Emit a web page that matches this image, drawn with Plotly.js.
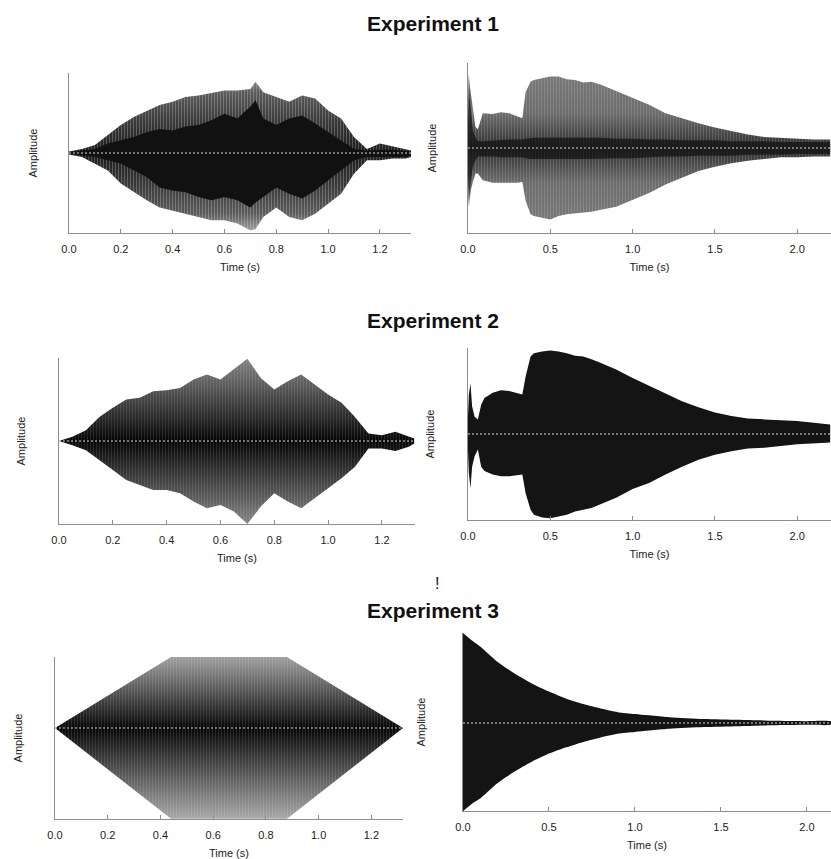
<!DOCTYPE html>
<html><head><meta charset="utf-8">
<script src="https://cdn.plot.ly/plotly-3.0.1.min.js"></script>
<style>html,body{margin:0;padding:0;background:#fff}</style>
</head><body><div id="chart" style="width:831px;height:859px"></div>
<script>
// ---------- Data (envelopes) ----------
const titles = ['Experiment 1', 'Experiment 2', 'Experiment 3'];
const xTitle = 'Time (s)';
const yTitle = 'Amplitude';

// Panel 1: Experiment 1, left
const t1 = [0, 0.05, 0.1, 0.15, 0.2, 0.25, 0.3, 0.35, 0.4, 0.45, 0.5, 0.55, 0.6, 0.65, 0.7, 0.72, 0.75, 0.8, 0.85, 0.9, 0.95, 1.0, 1.05, 1.1, 1.15, 1.2, 1.25, 1.3, 1.32];
const p1Upper = [0.02, 0.05, 0.1, 0.22, 0.35, 0.45, 0.53, 0.6, 0.64, 0.7, 0.72, 0.75, 0.78, 0.78, 0.8, 0.89, 0.76, 0.7, 0.64, 0.72, 0.68, 0.53, 0.43, 0.2, 0.05, 0.12, 0.08, 0.04, 0.03];
const p1Lower = [-0.02, -0.05, -0.13, -0.22, -0.38, -0.49, -0.59, -0.68, -0.72, -0.76, -0.8, -0.84, -0.84, -0.88, -0.97, -0.95, -0.8, -0.68, -0.8, -0.84, -0.76, -0.63, -0.51, -0.26, -0.09, -0.09, -0.07, -0.07, -0.05];
const p1CoreUpper = [0.01, 0.03, 0.05, 0.12, 0.16, 0.2, 0.26, 0.3, 0.28, 0.33, 0.35, 0.41, 0.49, 0.43, 0.58, 0.66, 0.43, 0.35, 0.43, 0.47, 0.37, 0.26, 0.16, 0.05, 0.03, 0.04, 0.04, 0.03, 0.02];
const p1CoreLower = [-0.01, -0.03, -0.05, -0.09, -0.13, -0.22, -0.3, -0.43, -0.47, -0.49, -0.55, -0.59, -0.55, -0.59, -0.68, -0.62, -0.55, -0.43, -0.51, -0.57, -0.47, -0.34, -0.22, -0.09, -0.05, -0.05, -0.05, -0.05, -0.03];

// Panel 2: Experiment 1, right
const t2 = [0, 0.005, 0.01, 0.02, 0.03, 0.045, 0.06, 0.09, 0.15, 0.2, 0.25, 0.3, 0.33, 0.35, 0.38, 0.4, 0.45, 0.5, 0.55, 0.6, 0.65, 0.7, 0.75, 0.8, 0.9, 1.0, 1.1, 1.2, 1.3, 1.4, 1.5, 1.6, 1.7, 1.8, 1.9, 2.0, 2.1, 2.2];
const p2Upper = [0.3, 0.88, 0.75, 0.6, 0.45, 0.25, 0.22, 0.41, 0.4, 0.42, 0.41, 0.37, 0.35, 0.66, 0.78, 0.8, 0.82, 0.84, 0.84, 0.81, 0.8, 0.77, 0.78, 0.75, 0.67, 0.59, 0.51, 0.41, 0.35, 0.29, 0.24, 0.2, 0.16, 0.13, 0.12, 0.11, 0.1, 0.1];
const p2Lower = [-0.3, -0.7, -0.6, -0.47, -0.4, -0.3, -0.3, -0.38, -0.41, -0.41, -0.41, -0.41, -0.4, -0.62, -0.78, -0.8, -0.82, -0.84, -0.8, -0.78, -0.77, -0.76, -0.75, -0.73, -0.69, -0.61, -0.53, -0.43, -0.35, -0.27, -0.22, -0.18, -0.15, -0.13, -0.11, -0.11, -0.1, -0.1];
const p2CoreUpper = [0.3, 0.85, 0.6, 0.35, 0.2, 0.12, 0.08, 0.08, 0.09, 0.1, 0.1, 0.1, 0.1, 0.11, 0.12, 0.12, 0.12, 0.12, 0.12, 0.12, 0.12, 0.12, 0.12, 0.12, 0.11, 0.11, 0.1, 0.1, 0.09, 0.09, 0.09, 0.08, 0.08, 0.08, 0.07, 0.07, 0.07, 0.07];
const p2CoreLower = [-0.3, -0.65, -0.5, -0.35, -0.22, -0.14, -0.1, -0.1, -0.1, -0.11, -0.11, -0.11, -0.11, -0.12, -0.13, -0.13, -0.13, -0.13, -0.13, -0.13, -0.13, -0.13, -0.13, -0.13, -0.12, -0.12, -0.11, -0.1, -0.1, -0.09, -0.09, -0.09, -0.08, -0.08, -0.08, -0.07, -0.07, -0.07];

// Panel 3: Experiment 2, left
const t3 = [0, 0.05, 0.1, 0.15, 0.2, 0.25, 0.3, 0.35, 0.4, 0.45, 0.5, 0.55, 0.6, 0.65, 0.7, 0.75, 0.8, 0.85, 0.9, 0.95, 1.0, 1.05, 1.1, 1.15, 1.2, 1.25, 1.3, 1.32];
const p3Upper = [0.0, 0.05, 0.13, 0.29, 0.4, 0.5, 0.52, 0.6, 0.61, 0.64, 0.74, 0.8, 0.74, 0.86, 0.99, 0.76, 0.62, 0.72, 0.8, 0.68, 0.56, 0.46, 0.29, 0.09, 0.07, 0.11, 0.05, 0.03];
const p3Lower = [0.0, -0.05, -0.11, -0.23, -0.35, -0.47, -0.53, -0.59, -0.59, -0.63, -0.73, -0.81, -0.77, -0.85, -1.0, -0.79, -0.63, -0.73, -0.81, -0.69, -0.57, -0.45, -0.31, -0.09, -0.09, -0.12, -0.07, -0.03];

// Panel 4: Experiment 2, right
const t4 = [0, 0.005, 0.015, 0.025, 0.04, 0.06, 0.08, 0.1, 0.15, 0.2, 0.25, 0.3, 0.33, 0.35, 0.38, 0.4, 0.45, 0.5, 0.55, 0.6, 0.65, 0.7, 0.75, 0.8, 0.9, 1.0, 1.1, 1.2, 1.3, 1.4, 1.5, 1.6, 1.7, 1.8, 1.9, 2.0, 2.1, 2.2];
const p4Upper = [0.2, 0.45, 0.59, 0.32, 0.2, 0.17, 0.34, 0.42, 0.48, 0.51, 0.5, 0.47, 0.46, 0.67, 0.9, 0.94, 0.96, 0.97, 0.96, 0.94, 0.91, 0.9, 0.87, 0.83, 0.75, 0.65, 0.56, 0.47, 0.38, 0.31, 0.25, 0.21, 0.18, 0.17, 0.16, 0.15, 0.13, 0.11];
const p4Lower = [-0.2, -0.45, -0.63, -0.38, -0.26, -0.18, -0.38, -0.43, -0.47, -0.49, -0.49, -0.48, -0.47, -0.69, -0.88, -0.94, -0.97, -0.98, -0.96, -0.94, -0.9, -0.88, -0.86, -0.82, -0.74, -0.64, -0.57, -0.47, -0.38, -0.3, -0.24, -0.2, -0.17, -0.16, -0.14, -0.12, -0.11, -0.1];

// Panel 5: Experiment 3, left
const t5 = [0, 0.44, 0.88, 1.32];
const p5Upper = [0, 1, 1, 0];
const p5Lower = [0, -1.28, -1.28, 0];

// Panel 6: Experiment 3, right
const t6 = [0, 0.05, 0.1, 0.2, 0.3, 0.4, 0.5, 0.6, 0.7, 0.8, 0.9, 1.0, 1.2, 1.4, 1.6, 1.8, 2.0, 2.14];
const p6Upper = [1.0, 0.92, 0.85, 0.68, 0.55, 0.44, 0.35, 0.27, 0.21, 0.16, 0.12, 0.1, 0.065, 0.045, 0.035, 0.025, 0.02, 0.017];
const p6Lower = [-0.98, -0.9, -0.84, -0.67, -0.54, -0.43, -0.34, -0.27, -0.21, -0.16, -0.12, -0.1, -0.065, -0.045, -0.035, -0.025, -0.02, -0.017];

// ---------- Layout helpers ----------
const W = 831, H = 859;
const FONT = 'Liberation Sans, Arial, Helvetica, sans-serif';
function dxp(a, b) { return [a / W, b / W]; }
function dyp(top, bottom) { return [1 - bottom / H, 1 - top / H]; }
function poly(t, up, lo) { return { x: t.concat(t.slice().reverse()), y: up.concat(lo.slice().reverse()) }; }

const traces = [];
function addFill(k, t, up, lo, opts) {
  const p = poly(t, up, lo);
  const tr = Object.assign({
    type: 'scatter', mode: 'lines', x: p.x, y: p.y, fill: 'toself',
    line: { width: 0 }, hoverinfo: 'skip', showlegend: false,
    xaxis: 'x' + (k === 1 ? '' : k), yaxis: 'y' + (k === 1 ? '' : k)
  }, opts);
  traces.push(tr);
}
function stripes(k, t, up, lo, alpha, lineOpt) {
  addFill(k, t, up, lo, {
    fillcolor: 'rgba(0,0,0,0)', line: lineOpt || { width: 0 },
    fillpattern: { shape: '|', size: 3, solidity: 0.3, fgcolor: 'rgba(255,255,255,' + alpha + ')', bgcolor: 'rgba(0,0,0,0)' }
  });
}

// Panel 1
addFill(1, t1, p1Upper, p1Lower, { fillcolor: '#555', fillgradient: { type: 'vertical', start: -1, stop: 1,
  colorscale: [[0, '#a8a8a8'], [0.12, '#5c5c5c'], [0.3, '#3a3a3a'], [0.5, '#1c1c1c'], [0.7, '#3a3a3a'], [0.88, '#5c5c5c'], [1, '#a8a8a8']] } });
stripes(1, t1, p1Upper, p1Lower, 0.25);
addFill(1, t1, p1CoreUpper, p1CoreLower, { fillcolor: '#111' });
// Panel 2
addFill(2, t2, p2Upper, p2Lower, { fillcolor: '#6e6e6e', fillgradient: { type: 'vertical', start: -1, stop: 1,
  colorscale: [[0, '#7c7c7c'], [0.3, '#6c6c6c'], [0.5, '#2e2e2e'], [0.7, '#6c6c6c'], [1, '#7c7c7c']] } });
stripes(2, t2, p2Upper, p2Lower, 0.16);
addFill(2, t2, p2CoreUpper, p2CoreLower, { fillcolor: 'rgba(15,15,15,0.7)' });
// Panel 3
addFill(3, t3, p3Upper, p3Lower, { fillcolor: '#555', fillgradient: { type: 'vertical', start: -1, stop: 1,
  colorscale: [[0, '#858585'], [0.5, '#050505'], [1, '#858585']] } });
stripes(3, t3, p3Upper, p3Lower, 0.12);
// Panel 4
addFill(4, t4, p4Upper, p4Lower, { fillcolor: '#141414' });
// Panel 5
addFill(5, t5, p5Upper, p5Lower, { fillcolor: '#555', fillgradient: { type: 'vertical', start: -1.28, stop: 1,
  colorscale: [[0, '#a8a8a8'], [0.56, '#060606'], [1, '#a0a0a0']] } });
stripes(5, t5, p5Upper, p5Lower, 0.12);
// Panel 6 (smooth decay)
addFill(6, t6, p6Upper, p6Lower, { fillcolor: '#141414', line: { width: 0, shape: 'spline', smoothing: 0.6 } });

// ---------- Axes ----------
const panels = [
  { k: 1, x: dxp(69, 411), y: dyp(73, 233), xr: [0, 1.32], yr: [-1, 1], dt: 0.2, ysd: 28 },
  { k: 2, x: dxp(468, 831), y: dyp(63, 233), xr: [0, 2.205], yr: [-1, 1], dt: 0.5, ysd: 28 },
  { k: 3, x: dxp(59, 415), y: dyp(358, 524), xr: [0, 1.323], yr: [-1, 1], dt: 0.2, ysd: 30 },
  { k: 4, x: dxp(468, 831), y: dyp(348, 520), xr: [0, 2.205], yr: [-1, 1], dt: 0.5, ysd: 30 },
  { k: 5, x: dxp(55, 403), y: dyp(657, 819), xr: [0, 1.32], yr: [-1.282, 1], dt: 0.2, ysd: 29 },
  { k: 6, x: dxp(463, 831), y: dyp(633, 811), xr: [0, 2.14], yr: [-0.978, 1], dt: 0.5, ysd: 34 }
];

const layout = {
  width: W, height: H, margin: { l: 0, r: 0, t: 0, b: 0 },
  paper_bgcolor: '#fff', plot_bgcolor: 'rgba(0,0,0,0)',
  showlegend: false, shapes: [], annotations: []
};
const axisGray = '#8e8e8e';
panels.forEach(p => {
  const s = p.k === 1 ? '' : String(p.k);
  layout['xaxis' + s] = {
    domain: p.x, range: p.xr, anchor: 'y' + s, showline: true, linecolor: axisGray, linewidth: 1,
    ticks: 'inside', ticklen: 4, tickcolor: axisGray, tickwidth: 1, tick0: 0, dtick: p.dt, tickformat: '.1f',
    showgrid: false, zeroline: false, fixedrange: true, ticklabelstandoff: 6,
    tickfont: { family: FONT, size: 11, color: '#222' },
    title: { text: xTitle, font: { family: FONT, size: 11, color: '#222' }, standoff: 9 }
  };
  layout['yaxis' + s] = {
    domain: p.y, range: p.yr, anchor: 'x' + s, showline: true, linecolor: axisGray, linewidth: 1,
    ticks: 'inside', ticklen: 4, tickcolor: axisGray, tickvals: [p.yr[1]], showticklabels: false,
    showgrid: false, zeroline: false, fixedrange: true,
    title: { text: yTitle, font: { family: FONT, size: 11, color: '#222' }, standoff: p.ysd }
  };
  layout.shapes.push({
    type: 'line', xref: 'x' + s + ' domain', x0: 0, x1: 1, yref: 'y' + s, y0: 0, y1: 0,
    line: { color: '#d8d8d8', width: 1, dash: '2px,2px' }, layer: 'above'
  });
});

const titleY = [23.5, 320.5, 610];
titles.forEach((txt, i) => {
  layout.annotations.push({
    text: txt, xref: 'paper', yref: 'paper', x: 433 / W, y: 1 - titleY[i] / H,
    xanchor: 'center', yanchor: 'middle', showarrow: false,
    font: { family: FONT, size: 21, color: '#111', weight: 700 }
  });
});
layout.annotations.push({
  text: '!', xref: 'paper', yref: 'paper', x: 437 / W, y: 1 - 583 / H,
  xanchor: 'center', yanchor: 'middle', showarrow: false,
  font: { family: FONT, size: 16, color: '#111' }
});

Plotly.newPlot('chart', traces, layout, { staticPlot: true, displayModeBar: false });
</script>
</body></html>
